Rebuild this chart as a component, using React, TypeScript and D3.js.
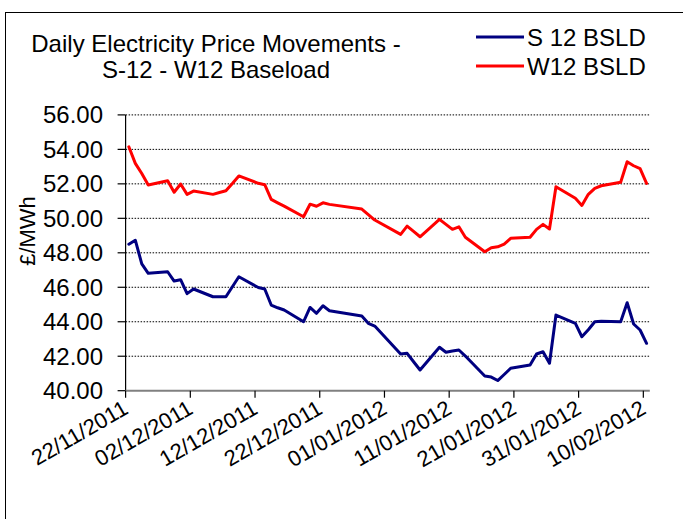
import React from "react";
import * as d3 from "d3";

const dates = [
  "22/11/2011","23/11/2011","24/11/2011","25/11/2011","28/11/2011","29/11/2011","30/11/2011",
  "01/12/2011","02/12/2011","05/12/2011","06/12/2011","07/12/2011","08/12/2011","09/12/2011",
  "12/12/2011","13/12/2011","14/12/2011","15/12/2011","16/12/2011","19/12/2011","20/12/2011",
  "21/12/2011","22/12/2011","23/12/2011","28/12/2011","29/12/2011","30/12/2011",
  "03/01/2012","04/01/2012","05/01/2012","06/01/2012","09/01/2012","10/01/2012","11/01/2012",
  "12/01/2012","13/01/2012","16/01/2012","17/01/2012","18/01/2012","19/01/2012","20/01/2012",
  "23/01/2012","24/01/2012","25/01/2012","26/01/2012","27/01/2012","30/01/2012","31/01/2012",
  "01/02/2012","02/02/2012","03/02/2012","06/02/2012","07/02/2012","08/02/2012","09/02/2012",
  "10/02/2012",
];

const s12 = [
  48.50, 48.73, 47.36, 46.81, 46.90, 46.36, 46.44,
  45.63, 45.90, 45.45, 45.45, 45.45, 46.03, 46.61,
  45.99, 45.90, 44.97, 44.81, 44.68, 44.00, 44.83,
  44.49, 44.93, 44.64, 44.33, 43.91, 43.75,
  42.13, 42.17, 41.68, 41.20, 42.52, 42.23, 42.30,
  42.36, 42.01, 40.85, 40.79, 40.59, 40.94, 41.30,
  41.49, 42.13, 42.26, 41.59, 44.39, 43.91, 43.13,
  43.54, 44.00, 44.03, 44.00, 45.10, 43.87, 43.52,
  42.75,
];

const w12 = [
  54.15, 53.19, 52.60, 51.93, 52.18, 51.51, 51.99,
  51.39, 51.58, 51.39, 51.50, 51.60, 52.02, 52.46,
  52.03, 51.95, 51.10, 50.90, 50.71, 50.09, 50.82,
  50.70, 50.90, 50.81, 50.54, 50.22, 49.90,
  49.07, 49.55, 49.24, 48.93, 49.94, 49.65, 49.36,
  49.51, 48.90, 48.06, 48.29, 48.35, 48.51, 48.84,
  48.90, 49.36, 49.65, 49.38, 51.83, 51.16, 50.75,
  51.39, 51.74, 51.89, 52.09, 53.28, 53.05, 52.88,
  52.03,
];

const xTickLabels = [
  "22/11/2011","02/12/2011","12/12/2011","22/12/2011","01/01/2012",
  "11/01/2012","21/01/2012","31/01/2012","10/02/2012",
];

const yTicks = [40, 42, 44, 46, 48, 50, 52, 54, 56];

const seriesNames = ["S 12 BSLD", "W12 BSLD"];
const seriesColors = ["#000080", "#FF0000"];
const titleLines = ["Daily Electricity Price Movements -", "S-12 - W12 Baseload"];
const yLabel = "£/MWh";

const parse = d3.timeParse("%d/%m/%Y");
const FONT = "'Liberation Sans', Arial, sans-serif";

export default function App() {
  const W = 683, H = 519;
  const left = 125.6, right = 649.8, top = 114.9, bottom = 390.7;

  const x = d3
    .scaleTime()
    .domain([parse("22/11/2011")!, parse("11/02/2012")!])
    .range([left, right]);
  const y = d3.scaleLinear().domain([40, 56]).range([bottom, top]);

  const half = 12 * 3600 * 1000;
  const pts = dates.map((d, i) => ({ t: new Date(parse(d)!.getTime() + half), s: s12[i], w: w12[i] }));

  const lineS = d3.line<any>().x((p) => x(p.t)).y((p) => y(p.s));
  const lineW = d3.line<any>().x((p) => x(p.t)).y((p) => y(p.w));

  return (
    <svg width={W} height={H} style={{ position: "absolute", left: 0, top: 0, background: "#fff" }} fontFamily={FONT}>
      <rect x={0} y={0} width={W} height={H} fill="#fff" />
      <rect x={5.5} y={12.5} width={W + 20} height={H + 20} fill="none" stroke="#000" strokeWidth={1} />

      {/* title */}
      {titleLines.map((t, i) => (
        <text key={i} x={216} y={52 + i * 26} textAnchor="middle" fontSize={24} fill="#000">
          {t}
        </text>
      ))}

      {/* legend */}
      {seriesNames.map((n, i) => (
        <g key={n}>
          <line x1={476} x2={524} y1={37 + i * 29} y2={37 + i * 29} stroke={seriesColors[i]} strokeWidth={3} />
          <text x={527} y={45.5 + i * 29} fontSize={24} fill="#000">{n}</text>
        </g>
      ))}

      {/* gridlines */}
      {yTicks.slice(1).map((v) => (
        <line key={v} x1={left} x2={right} y1={y(v)} y2={y(v)} stroke="#000" strokeWidth={1} strokeDasharray="1.5,1.5" />
      ))}

      {/* y axis */}
      <line x1={left} x2={left} y1={top} y2={bottom} stroke="#000" strokeWidth={1.2} />
      {yTicks.map((v) => (
        <g key={v}>
          <line x1={left - 8} x2={left} y1={y(v)} y2={y(v)} stroke="#000" strokeWidth={1.2} />
          <text x={103} y={y(v) + 8.5} textAnchor="end" fontSize={24} fill="#000">
            {d3.format(".2f")(v)}
          </text>
        </g>
      ))}
      <text transform={`translate(35,${231}) rotate(-90)`} textAnchor="middle" fontSize={22} fill="#000">
        {yLabel}
      </text>

      {/* x axis */}
      <line x1={left} x2={right} y1={bottom} y2={bottom} stroke="#808080" strokeWidth={2} />
      {xTickLabels.map((l) => {
        const xx = x(parse(l)!);
        return (
          <g key={l}>
            <line x1={xx} x2={xx} y1={bottom} y2={bottom + 7} stroke="#000" strokeWidth={1.2} />
            <text transform={`translate(${xx + 4},${bottom + 22}) rotate(-30)`} textAnchor="end" fontSize={22} fill="#000">
              {l}
            </text>
          </g>
        );
      })}

      <defs>
        <clipPath id="plotclip">
          <rect x={left} y={top - 10} width={right - left + 1} height={bottom - top + 20} />
        </clipPath>
      </defs>
      <g clipPath="url(#plotclip)">
        <path d={lineS(pts)!} fill="none" stroke={seriesColors[0]} strokeWidth={3} strokeLinejoin="round" strokeLinecap="round" />
        <path d={lineW(pts)!} fill="none" stroke={seriesColors[1]} strokeWidth={3} strokeLinejoin="round" strokeLinecap="round" />
      </g>
    </svg>
  );
}
